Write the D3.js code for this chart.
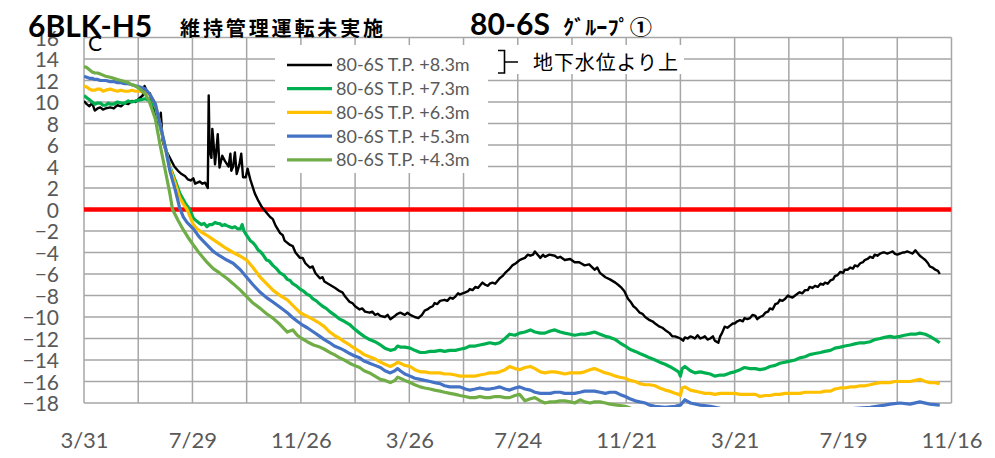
<!DOCTYPE html>
<html><head><meta charset="utf-8">
<script src="https://cdn.jsdelivr.net/npm/d3@7"></script>
<style>
html,body{margin:0;padding:0;background:#fff;}
svg{display:block;}
</style></head>
<body><svg id="c" width="995" height="458"></svg>
<script>
// ---- data (day offset from 2016-03-31, temperature °C) ----
const startDate = "2016-03-31";
const endDate = "2018-11-16";
const xLabelDates = ["2016-03-31","2016-07-29","2016-11-26","2017-03-26","2017-07-24","2017-11-21","2018-03-21","2018-07-19","2018-11-16"];
const yTicks = [-18,-16,-14,-12,-10,-8,-6,-4,-2,0,2,4,6,8,10,12,14,16];
const seriesNames = ["80-6S T.P. +8.3m","80-6S T.P. +7.3m","80-6S T.P. +6.3m","80-6S T.P. +5.3m","80-6S T.P. +4.3m"];
const seriesColors = ["#000000","#00B050","#FFC000","#4472C4","#70AD47"];

const s83 = [[0,10.1],[3,9.8],[6,9.6],[9,9.9],[12,9.2],[15,9.4],[18,9.5],[21,9.3],[24,9.4],[29,9.5],[33,9.4],[37,9.7],[41,9.6],[45,9.9],[49,9.8],[53,10.1],[57,10.0],[62,10.4],[65,10.6],[67,11.5],[70,10.9],[73,10.8],[75,9.8],[79,9.0],[82,8.0],[85,9.0],[87,6.4],[90,5.6],[95,4.8],[100,4.0],[104,3.6],[108,3.3],[112,3.1],[115,2.8],[118,2.7],[121,2.9],[123,2.4],[128,2.6],[131,2.4],[134,2.5],[137,2.0],[138,10.6],[139,5.5],[141,4.8],[142,7.5],[143,6.6],[145,4.2],[147,6.0],[148,7.0],[150,3.9],[153,5.0],[156,4.5],[160,4.0],[162,5.2],[163,3.6],[165,4.0],[167,5.3],[169,3.3],[172,4.2],[174,5.2],[176,3.0],[179,3.0],[181,3.8],[184,2.8],[189,1.5],[193,0.8],[197,0.2],[202,-0.3],[206,-0.7],[209,-0.9],[212,-1.5],[217,-2.2],[220,-2.4],[222,-2.9],[228,-3.3],[231,-3.4],[234,-4.0],[239,-4.5],[242,-4.5],[245,-5.0],[250,-5.4],[253,-5.3],[256,-5.9],[261,-6.4],[264,-6.3],[266,-6.7],[272,-7.0],[278,-7.3],[283,-7.6],[286,-7.7],[289,-8.1],[294,-8.6],[297,-8.7],[300,-9.0],[305,-9.3],[308,-9.2],[311,-9.5],[316,-9.6],[319,-9.5],[322,-9.8],[325,-9.7],[328,-9.9],[333,-10.0],[336,-9.8],[339,-10.2],[344,-9.9],[347,-9.7],[350,-9.6],[355,-9.8],[358,-9.6],[361,-9.8],[366,-10.0],[370,-10.1],[374,-9.8],[377,-9.4],[380,-9.3],[383,-9.1],[386,-9.0],[388,-8.7],[391,-8.8],[394,-8.5],[399,-8.4],[402,-8.5],[405,-8.2],[408,-8.3],[411,-8.1],[414,-7.8],[416,-7.9],[419,-7.8],[422,-7.7],[425,-7.6],[427,-7.4],[430,-7.5],[433,-7.2],[436,-7.3],[438,-7.1],[441,-6.8],[444,-7.0],[447,-7.1],[449,-6.9],[452,-6.8],[455,-6.9],[460,-6.4],[463,-6.2],[466,-5.9],[470,-5.6],[474,-5.2],[478,-5.0],[482,-4.7],[485,-4.6],[488,-4.5],[491,-4.2],[494,-4.3],[497,-4.2],[499,-3.9],[502,-4.2],[505,-4.5],[508,-4.2],[510,-4.4],[515,-4.2],[521,-4.3],[524,-4.5],[527,-4.4],[532,-4.7],[538,-4.6],[543,-4.9],[548,-4.9],[554,-5.2],[559,-5.1],[565,-5.6],[568,-5.4],[571,-5.9],[577,-6.3],[582,-6.5],[588,-6.8],[591,-7.0],[595,-7.3],[598,-7.6],[602,-8.3],[605,-8.6],[608,-9.0],[611,-9.2],[615,-9.6],[618,-9.7],[621,-10.0],[626,-10.3],[629,-10.4],[632,-10.6],[637,-10.9],[640,-11.0],[643,-11.2],[648,-11.5],[651,-11.8],[654,-11.8],[657,-11.9],[660,-12.0],[663,-12.2],[665,-11.9],[668,-12.0],[671,-11.8],[674,-11.9],[676,-12.0],[679,-11.7],[682,-12.0],[685,-11.9],[687,-11.8],[690,-12.1],[693,-12.0],[696,-11.8],[698,-12.2],[702,-12.4],[704,-11.8],[706,-11.5],[709,-10.9],[712,-11.0],[715,-10.8],[718,-10.6],[720,-10.6],[723,-10.4],[726,-10.3],[729,-10.4],[731,-10.1],[734,-10.2],[737,-10.1],[740,-9.8],[743,-9.9],[745,-10.2],[748,-10.0],[751,-9.9],[754,-9.6],[757,-9.5],[759,-9.2],[762,-9.3],[765,-8.8],[768,-8.7],[770,-8.4],[773,-8.5],[776,-8.3],[779,-8.0],[781,-8.1],[784,-8.2],[787,-8.0],[790,-7.8],[792,-7.7],[795,-7.8],[798,-7.5],[801,-7.5],[803,-7.2],[806,-7.3],[809,-7.1],[812,-7.2],[815,-6.9],[818,-7.0],[820,-6.8],[823,-6.9],[826,-6.6],[829,-6.5],[831,-6.2],[834,-6.1],[837,-5.8],[840,-5.9],[842,-5.6],[845,-5.6],[848,-5.4],[851,-5.5],[853,-5.2],[856,-5.3],[859,-5.0],[862,-4.9],[864,-4.7],[867,-4.6],[870,-4.4],[873,-4.5],[875,-4.2],[878,-4.3],[881,-4.1],[884,-4.0],[886,-4.0],[889,-4.1],[892,-4.0],[895,-3.9],[897,-4.1],[900,-4.2],[903,-4.1],[906,-4.0],[908,-4.0],[911,-3.9],[914,-4.0],[917,-4.1],[920,-3.8],[922,-4.0],[925,-4.3],[928,-4.5],[931,-4.7],[934,-5.0],[936,-5.3],[939,-5.4],[942,-5.6],[945,-5.7],[947,-6.0]];

const s73 = [[0,10.6],[3,10.4],[6,10.2],[9,10.0],[12,9.8],[15,9.9],[18,9.9],[21,9.7],[24,9.7],[27,9.9],[29,9.8],[33,9.8],[37,10.0],[41,9.9],[45,9.9],[49,10.1],[53,10.0],[57,10.1],[62,10.2],[68,10.3],[73,10.1],[79,9.5],[84,7.8],[90,5.8],[95,4.0],[101,2.7],[106,1.5],[112,0.6],[117,0.0],[121,-0.8],[125,-1.1],[128,-1.3],[130,-1.4],[133,-1.3],[136,-1.6],[139,-1.4],[142,-1.4],[145,-1.2],[148,-1.3],[150,-1.3],[153,-1.5],[156,-1.4],[158,-1.5],[161,-1.6],[164,-1.7],[167,-1.6],[170,-1.8],[173,-1.8],[175,-1.4],[177,-2.0],[180,-2.4],[184,-2.9],[187,-3.1],[190,-3.4],[193,-3.8],[195,-3.9],[198,-4.2],[202,-4.7],[205,-4.8],[209,-5.2],[213,-5.5],[217,-5.9],[221,-6.1],[225,-6.5],[228,-6.6],[231,-6.9],[235,-7.1],[239,-7.4],[243,-7.6],[247,-7.9],[250,-8.0],[253,-8.3],[257,-8.5],[261,-8.8],[264,-9.0],[268,-9.2],[272,-9.5],[277,-9.8],[283,-10.2],[288,-10.4],[294,-10.7],[299,-11.1],[305,-11.5],[310,-11.8],[316,-12.1],[322,-12.3],[328,-12.6],[333,-12.9],[339,-13.1],[344,-13.0],[347,-12.7],[350,-12.8],[355,-12.8],[361,-12.9],[366,-13.1],[372,-13.3],[377,-13.3],[383,-13.2],[388,-13.2],[394,-13.1],[399,-13.2],[405,-13.1],[411,-13.1],[416,-13.0],[422,-12.9],[427,-12.7],[433,-12.7],[438,-12.6],[444,-12.5],[449,-12.4],[455,-12.5],[460,-12.4],[463,-12.2],[466,-12.0],[471,-11.6],[477,-11.7],[482,-11.5],[488,-11.4],[494,-11.2],[499,-11.4],[505,-11.5],[510,-11.5],[516,-11.3],[521,-11.2],[527,-11.4],[532,-11.5],[538,-11.6],[543,-11.7],[549,-11.6],[554,-11.6],[560,-11.5],[565,-11.4],[571,-11.6],[577,-11.8],[582,-11.9],[588,-12.1],[593,-12.4],[599,-12.7],[604,-13.0],[610,-13.2],[615,-13.4],[621,-13.6],[626,-13.8],[632,-14.0],[637,-14.2],[643,-14.4],[648,-14.6],[654,-14.9],[658,-15.1],[660,-15.5],[662,-14.8],[665,-14.6],[671,-15.0],[676,-15.2],[682,-15.1],[687,-15.2],[693,-15.3],[698,-15.5],[704,-15.4],[709,-15.4],[715,-15.2],[720,-15.1],[726,-14.9],[731,-14.7],[737,-14.8],[743,-14.8],[748,-14.9],[754,-14.8],[759,-14.6],[765,-14.5],[770,-14.3],[776,-14.2],[781,-14.1],[787,-14.0],[792,-13.8],[798,-13.7],[803,-13.5],[809,-13.4],[815,-13.3],[820,-13.2],[826,-13.1],[831,-12.9],[837,-12.8],[842,-12.7],[848,-12.6],[853,-12.5],[859,-12.4],[864,-12.4],[870,-12.3],[875,-12.1],[881,-12.0],[886,-11.9],[892,-11.8],[897,-11.9],[903,-11.8],[908,-11.7],[914,-11.6],[920,-11.6],[925,-11.5],[931,-11.6],[936,-11.8],[942,-12.1],[947,-12.4]];

const s63 = [[0,11.5],[3,11.4],[6,11.2],[9,11.1],[12,11.1],[15,11.2],[18,11.2],[21,11.0],[24,11.1],[29,11.2],[33,11.1],[37,11.0],[41,11.1],[45,11.0],[49,11.0],[53,11.1],[57,11.0],[62,11.0],[68,10.9],[73,10.7],[79,9.8],[84,8.0],[90,5.7],[95,3.9],[101,2.4],[106,1.1],[110,0.5],[114,0.0],[118,-0.8],[121,-1.4],[125,-1.8],[130,-2.1],[136,-2.4],[143,-2.8],[150,-3.2],[157,-3.6],[165,-4.0],[172,-4.3],[180,-4.7],[187,-5.4],[195,-6.3],[202,-6.9],[209,-7.5],[217,-8.0],[225,-8.4],[232,-9.0],[239,-9.6],[246,-9.9],[253,-10.2],[261,-10.6],[266,-10.9],[272,-11.4],[277,-11.7],[283,-12.0],[288,-12.3],[294,-12.6],[299,-12.9],[305,-13.2],[310,-13.5],[316,-13.7],[322,-13.9],[328,-14.2],[333,-14.4],[339,-14.6],[344,-14.4],[347,-14.2],[350,-14.3],[355,-14.5],[361,-14.6],[366,-14.9],[372,-15.1],[377,-15.1],[383,-15.2],[388,-15.2],[394,-15.2],[399,-15.3],[405,-15.3],[411,-15.4],[416,-15.5],[422,-15.5],[427,-15.5],[433,-15.5],[438,-15.4],[444,-15.3],[449,-15.2],[455,-15.2],[460,-15.1],[466,-14.9],[471,-14.6],[477,-14.8],[482,-14.9],[488,-14.7],[494,-14.6],[499,-14.8],[505,-15.1],[510,-15.2],[516,-15.1],[521,-15.1],[527,-15.2],[532,-15.3],[538,-15.2],[543,-15.2],[549,-15.2],[554,-15.1],[560,-14.9],[565,-14.8],[571,-15.0],[577,-15.2],[582,-15.3],[588,-15.5],[593,-15.6],[599,-15.7],[604,-15.9],[610,-16.0],[615,-16.2],[621,-16.3],[626,-16.3],[632,-16.4],[637,-16.6],[643,-16.8],[648,-16.9],[654,-17.1],[658,-17.2],[660,-17.3],[662,-16.6],[665,-16.5],[671,-16.8],[676,-16.9],[682,-17.0],[687,-17.1],[693,-17.1],[698,-17.2],[704,-17.1],[709,-17.1],[715,-17.1],[720,-17.1],[726,-17.2],[731,-17.2],[737,-17.2],[743,-17.2],[748,-17.4],[754,-17.3],[759,-17.3],[765,-17.2],[770,-17.2],[776,-17.1],[781,-17.1],[787,-17.1],[792,-17.1],[798,-17.0],[803,-17.0],[809,-17.0],[815,-17.0],[820,-16.9],[826,-16.9],[831,-16.7],[837,-16.6],[842,-16.6],[848,-16.5],[853,-16.5],[859,-16.4],[864,-16.4],[870,-16.3],[875,-16.2],[881,-16.1],[886,-16.1],[892,-16.1],[897,-16.0],[903,-16.0],[908,-16.0],[914,-16.0],[920,-15.9],[925,-15.8],[931,-16.0],[936,-16.1],[942,-16.1],[947,-16.2]];

const s53 = [[0,12.4],[3,12.3],[6,12.2],[9,12.2],[12,12.1],[15,12.1],[18,12.0],[24,12.0],[29,11.9],[33,11.9],[37,11.8],[41,11.8],[45,11.7],[49,11.7],[53,11.6],[57,11.5],[62,11.4],[68,11.2],[73,10.7],[79,9.8],[84,8.0],[90,5.8],[95,3.6],[101,1.8],[106,0.1],[110,-0.7],[114,-1.2],[121,-1.8],[128,-2.6],[136,-3.3],[143,-3.9],[150,-4.3],[158,-4.7],[165,-5.0],[173,-5.6],[180,-6.3],[187,-7.0],[195,-7.7],[202,-8.2],[209,-8.6],[217,-9.1],[225,-9.6],[230,-10.0],[236,-10.4],[241,-10.7],[247,-11.0],[254,-11.4],[261,-11.8],[266,-12.1],[272,-12.4],[277,-12.7],[283,-12.9],[288,-13.1],[294,-13.4],[299,-13.6],[305,-13.8],[310,-14.1],[316,-14.3],[322,-14.5],[328,-14.7],[333,-15.0],[339,-15.2],[344,-15.0],[347,-14.8],[350,-15.0],[355,-15.3],[361,-15.5],[366,-15.7],[372,-15.8],[377,-15.9],[383,-16.0],[388,-16.1],[394,-16.2],[399,-16.4],[405,-16.5],[411,-16.5],[416,-16.5],[422,-16.7],[427,-16.8],[433,-16.7],[438,-16.6],[444,-16.7],[449,-16.7],[455,-16.6],[460,-16.5],[466,-16.7],[471,-16.8],[477,-16.6],[482,-16.5],[488,-16.7],[494,-16.8],[499,-17.0],[505,-17.1],[510,-17.1],[516,-17.1],[521,-17.0],[527,-17.0],[532,-17.1],[538,-17.1],[543,-17.1],[549,-17.0],[554,-16.9],[560,-16.9],[565,-16.9],[571,-17.0],[577,-17.1],[582,-17.0],[588,-17.0],[593,-17.2],[599,-17.4],[604,-17.6],[610,-17.8],[615,-17.9],[621,-18.0],[626,-18.2],[632,-18.3],[643,-18.4],[654,-18.3],[660,-18.2],[665,-17.7],[671,-18.0],[682,-18.2],[693,-18.3],[704,-18.5],[720,-18.7],[748,-18.9],[792,-18.8],[837,-18.6],[870,-18.4],[886,-18.2],[892,-18.1],[903,-18.0],[914,-18.1],[925,-17.9],[936,-18.1],[947,-18.2]];

const s43 = [[0,13.3],[3,13.2],[6,13.0],[9,12.8],[12,12.7],[15,12.7],[18,12.6],[21,12.5],[24,12.4],[29,12.3],[33,12.2],[37,12.1],[41,12.0],[45,11.9],[49,11.8],[53,11.6],[57,11.5],[62,11.2],[67,10.8],[71,10.3],[75,9.4],[79,8.4],[84,6.1],[90,3.6],[95,1.5],[98,0.0],[104,-1.0],[110,-1.9],[116,-2.7],[121,-3.3],[128,-4.1],[136,-4.9],[143,-5.5],[150,-5.9],[158,-6.4],[165,-6.9],[173,-7.5],[180,-8.1],[187,-8.7],[195,-9.2],[202,-9.7],[209,-10.1],[217,-10.7],[225,-11.4],[231,-11.2],[236,-11.7],[241,-12.0],[247,-12.3],[254,-12.6],[261,-12.8],[266,-13.0],[272,-13.3],[277,-13.5],[283,-13.8],[288,-14.0],[294,-14.3],[299,-14.5],[305,-14.7],[310,-15.0],[316,-15.2],[322,-15.5],[328,-15.8],[333,-15.9],[339,-16.1],[344,-15.9],[347,-15.6],[350,-15.7],[355,-15.9],[361,-16.1],[366,-16.3],[372,-16.5],[377,-16.6],[383,-16.7],[388,-16.8],[394,-16.9],[399,-17.0],[405,-17.1],[411,-17.2],[416,-17.3],[422,-17.4],[427,-17.5],[433,-17.5],[438,-17.4],[444,-17.5],[449,-17.5],[455,-17.4],[460,-17.4],[466,-17.5],[471,-17.5],[477,-17.3],[482,-17.2],[488,-17.8],[494,-17.6],[499,-17.5],[505,-17.8],[510,-18.0],[516,-17.9],[521,-17.9],[527,-17.8],[532,-17.8],[538,-17.9],[543,-18.0],[549,-17.7],[554,-17.9],[560,-18.0],[565,-17.9],[571,-17.9],[577,-18.0],[582,-18.1],[590,-18.2],[599,-18.3],[615,-18.8],[637,-19.3],[682,-19.8],[748,-20.0],[815,-19.8],[881,-19.5],[947,-19.3]];

const seriesData = [s83, s73, s63, s53, s43];

// ---- drawing ----
(function () {
const svg = d3.select("#c");
const W = 995, H = 458;
const pL = 84, pR = 951.5, pT = 37.5, pB = 403;
const parse = d3.timeParse("%Y-%m-%d");
const t0 = parse(startDate), t1 = parse(endDate);
const x = d3.scaleTime().domain([t0, t1]).range([pL, pR]);
const y = d3.scaleLinear().domain([-18, 16]).range([pB, pT]);
const toDate = d => d3.timeDay.offset(t0, d);

svg.append("rect").attr("width", W).attr("height", H).attr("fill", "#fff");

// gridlines
const labelDates = xLabelDates.map(parse);
const gridDates = [];
labelDates.forEach((d, i) => { gridDates.push(d); if (i < labelDates.length - 1) gridDates.push(d3.timeDay.offset(d, 60)); });
const grid = svg.append("g");
grid.selectAll("line.h").data(yTicks).join("line").attr("class", "h")
  .attr("x1", pL).attr("x2", pR).attr("y1", d => y(d)).attr("y2", d => y(d))
  .attr("stroke", "#A6A6A6").attr("stroke-width", 1.5);
grid.selectAll("line.v").data(gridDates).join("line").attr("class", "v")
  .attr("x1", d => x(d)).attr("x2", d => x(d)).attr("y1", pT).attr("y2", pB)
  .attr("stroke", "#A6A6A6").attr("stroke-width", 1.5);

// y axis labels
const yAxis = d3.axisLeft(y).tickValues(yTicks).tickSize(0).tickPadding(0).tickFormat(d3.format("d"));
const yg = svg.append("g").attr("transform", "translate(59,0)").call(yAxis);
yg.select(".domain").remove();
yg.selectAll("text").attr("font-family", "Lato, sans-serif").attr("font-size", 21).attr("fill", "#595959").attr("dy", "0.36em");

// x axis labels
const fmt = d3.timeFormat("%-m/%-d");
const xAxis = d3.axisBottom(x).tickValues(labelDates).tickSize(0).tickPadding(0).tickFormat(fmt);
const xg = svg.append("g").attr("transform", "translate(0,432)").call(xAxis);
xg.select(".domain").remove();
xg.selectAll("text").attr("font-family", "Lato, sans-serif").attr("font-size", 22).attr("fill", "#595959").attr("dy", "0.71em");

// clip
svg.append("clipPath").attr("id", "clip").append("rect")
  .attr("x", pL).attr("y", pT - 2).attr("width", pR - pL).attr("height", pB - pT + 6);
const plot = svg.append("g").attr("clip-path", "url(#clip)");

// zero line
plot.append("line").attr("x1", x(t0)).attr("x2", x(t1)).attr("y1", y(0)).attr("y2", y(0))
  .attr("stroke", "#FF0000").attr("stroke-width", 4.5);

const line = d3.line().x(d => x(toDate(d[0]))).y(d => y(d[1]));
seriesData.forEach((s, i) => {
  plot.append("path").attr("d", line(s)).attr("fill", "none")
    .attr("stroke", seriesColors[i]).attr("stroke-width", i === 0 ? 2.4 : 3.2)
    .attr("stroke-linejoin", "round");
});

// legend
svg.append("rect").attr("x", 275).attr("y", 45).attr("width", 213).attr("height", 128).attr("fill", "#fff");
const lg = svg.append("g");
seriesNames.forEach((n, i) => {
  const yy = 65 + i * 23.7;
  lg.append("line").attr("x1", 287).attr("x2", 332).attr("y1", yy).attr("y2", yy)
    .attr("stroke", seriesColors[i]).attr("stroke-width", i === 0 ? 2.4 : 3.2);
  lg.append("text").attr("x", 336).attr("y", yy).attr("dy", "0.36em")
    .attr("font-family", "Lato, sans-serif").attr("font-size", 18).attr("fill", "#595959").text(n);
});

// annotation
svg.append("rect").attr("x", 488).attr("y", 45).attr("width", 196).attr("height", 29).attr("fill", "#fff");
svg.append("path").attr("d", "M498,50.5 L504.5,50.5 L504.5,73 L498,73 M504.5,62 L518,62")
  .attr("fill", "none").attr("stroke", "#000").attr("stroke-width", 1.6);
svg.append("text").attr("x", 533).attr("y", 70).attr("font-family", "'Noto Sans CJK JP', sans-serif")
  .attr("font-size", 20).attr("fill", "#000").attr("textLength", 145).attr("lengthAdjust", "spacing").text("地下水位より上");

// unit
svg.append("text").attr("x", 88).attr("y", 51).attr("font-family", "Lato, sans-serif").attr("font-size", 21).attr("fill", "#000").text("C");

// titles
svg.append("text").attr("x", 28).attr("y", 37).attr("font-family", "Lato, sans-serif").attr("font-weight", "bold")
  .attr("font-size", 30).attr("fill", "#000").text("6BLK-H5");
svg.append("text").attr("x", 180).attr("y", 36).attr("font-family", "'Noto Sans CJK JP', sans-serif").attr("font-weight", "bold")
  .attr("font-size", 20).attr("fill", "#000").attr("textLength", 203).attr("lengthAdjust", "spacing").text("維持管理運転未実施");
svg.append("text").attr("x", 470).attr("y", 35).attr("font-family", "Lato, sans-serif").attr("font-weight", "bold")
  .attr("font-size", 30).attr("fill", "#000").text("80-6S");
svg.append("text").attr("x", 563).attr("y", 35).attr("font-family", "'Noto Sans CJK JP', sans-serif").attr("font-weight", "bold")
  .attr("font-size", 20).attr("fill", "#000").attr("textLength", 89).attr("lengthAdjust", "spacingAndGlyphs").text("ｸﾞﾙｰﾌﾟ①");
})();
</script></body></html>
